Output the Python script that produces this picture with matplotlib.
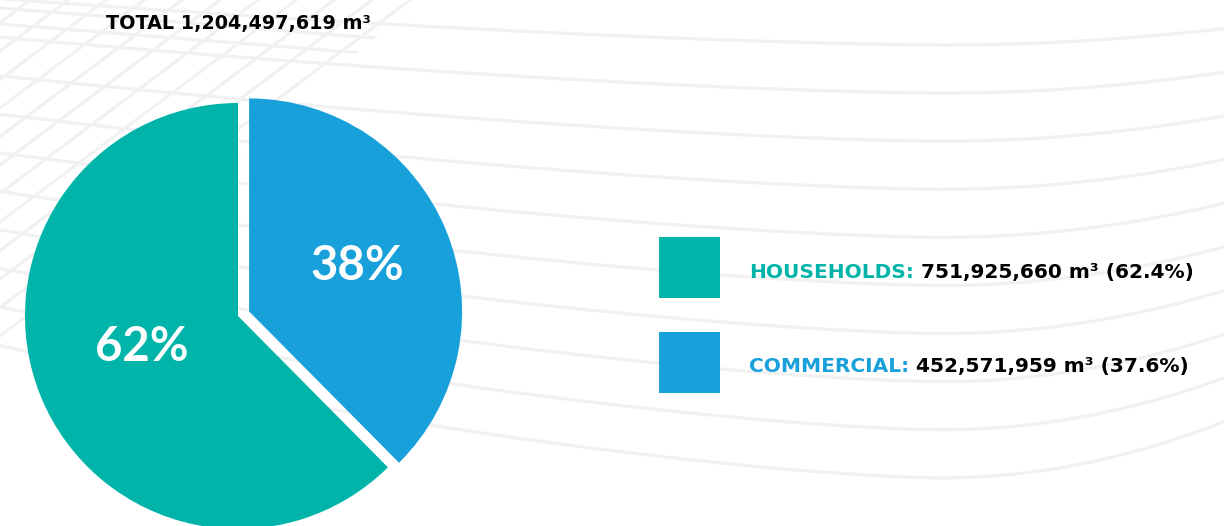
import numpy as np
import matplotlib.pyplot as plt
from matplotlib.patches import Rectangle, Polygon

# water consumption by sector, m³
categories = ['HOUSEHOLDS', 'COMMERCIAL']
volumes = [751925660, 452571959]
colors = ['#00B4AA', '#18A0DB']

W, H = 1224, 526
total = sum(volumes)

plt.rcParams['font.family'] = ['DejaVu Sans']

fig = plt.figure(figsize=(W / 100, H / 100), dpi=100)
ax = fig.add_axes([0, 0, 1, 1])

# faint decorative curves in the background (y measured from the top)
line_color = '#f1f1f1'
xs = np.linspace(0, W, 500)
dx = xs - 940
for k in range(10):
    c = 45 + 48.1 * k
    sl = 18 + 3.7 * k
    sr = 16 + 4.3 * k
    drop = np.where(dx < 0, sl * (np.abs(dx) / 500) ** 1.5, sr * (dx / 280) ** 2)
    ax.plot(xs, H - (c - drop), color=line_color, lw=2.3, zorder=0)

# top-left grid, clipped to a triangle
clip = Polygon([(0, H), (420, H), (0, H - 360)], closed=True, transform=ax.transData)
gx = np.linspace(0, 420, 50)
for y0 in [8, 24]:
    ln, = ax.plot(gx, H - (y0 + 0.08 * gx), color=line_color, lw=2.3, zorder=0)
    ln.set_clip_path(clip)
for x0 in np.arange(30, 700, 38):
    ln, = ax.plot(gx, H - 0.75 * (x0 - gx), color=line_color, lw=2.3, zorder=0)
    ln.set_clip_path(clip)

# pie: commercial first, clockwise from 12 o'clock
wedges, _, autotexts = ax.pie(
    volumes[::-1], colors=colors[::-1], startangle=90, counterclock=False,
    explode=[12, 0], radius=213, center=(238, H - 316),
    wedgeprops=dict(linewidth=0, zorder=2),
    autopct=lambda p: f'{p:.0f}%',
    textprops=dict(color='white', fontsize=34, fontweight='bold', family='Lato'),
)

# label placement: (fraction of radius, angle nudge in degrees)
label_pos = [(0.56, 2), (0.47, -7)]
for w, t, (d, nudge) in zip(wedges, autotexts, label_pos):
    th = np.deg2rad((w.theta1 + w.theta2) / 2 + nudge)
    cx, cy = w.center
    t.set_position((cx + d * w.r * np.cos(th), cy + d * w.r * np.sin(th)))
    t.set_va('center_baseline')
    t.set_zorder(3)

ax.text(106, H - 29, f'TOTAL {total:,} m³', fontsize=13.8, fontweight='bold',
        color='black', va='baseline', ha='left')

# legend
box_top = [237, 332]
text_base = [278, 372]
for name, v, col, bt, tb in zip(categories, volumes, colors, box_top, text_base):
    ax.add_patch(Rectangle((659, H - bt - 61), 61, 61, facecolor=col, lw=0, zorder=2))
    t1 = ax.text(749, H - tb, f'{name}:', color=col, fontsize=14.5, fontweight='bold',
                 va='baseline', ha='left')
    ax.annotate(f' {v:,} m³ ({v / total * 100:.1f}%)', xy=(1, 0), xycoords=t1,
                color='black', fontsize=14.5, fontweight='bold', va='bottom', ha='left')

ax.set_xlim(0, W)
ax.set_ylim(0, H)
ax.set_aspect('equal')
ax.axis('off')

fig.savefig('out.png', dpi=100, facecolor='white')
